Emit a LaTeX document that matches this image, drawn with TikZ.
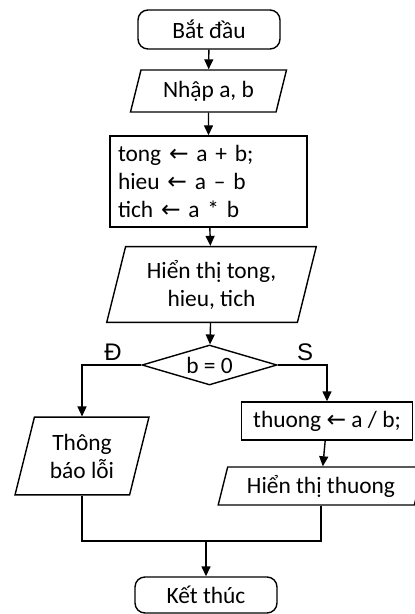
\documentclass[tikz,border=0pt]{standalone}
\usepackage{fontspec}
\setmainfont{Carlito}
\newfontfamily\branchfont{Liberation Sans}
\newfontfamily\arrowglyphs{DejaVu Sans}
\newcommand{\asg}{{\arrowglyphs\char"2190}}
\usetikzlibrary{shapes.geometric,arrows.meta}

\begin{document}
\begin{tikzpicture}[x=0.5pt, y=-0.5pt,
        every node/.style={font=\fontsize{11.7}{14}\selectfont},
        box/.style={
        rectangle, draw=black, line width=0.7pt,
        inner sep=4pt},
        term/.style={box, rounded corners=5pt},
        io/.style={
        trapezium, trapezium left angle=76, trapezium right angle=104,
        draw=black, line width=0.7pt, inner xsep=0pt, inner ysep=2pt, align=center},
        test/.style={
        diamond, draw=black, line width=0.7pt,
        aspect=3.4, inner sep=1pt},
        flow/.style={draw, line width=0.7pt, -{Triangle[length=5pt,width=4.5pt]}},
        branch/.style={font=\branchfont\fontsize{12}{14}\selectfont},
        ]

        \useasboundingbox (0,0) rectangle (414,614);

        \node (start) [term, minimum width=71pt, minimum height=19.5pt] at (209,29.5) {Bắt đầu};
        \node (input) [io, minimum width=76pt, minimum height=21pt] at (208.5,91) {Nhập a, b};
        \node (calc) [box, text width=90.5pt, align=left, minimum height=45.5pt] at (208.5,181.5)
                {tong \asg{} a + b;\\ hieu \asg{} a – b\\ tich \asg{} a * b};
        \node (show) [io, minimum width=105.5pt, minimum height=28.5pt] at (211.5,284.5)
                {Hiển thị tong,\\ hieu, tich};
        \node (cond) [test, minimum width=67.5pt, minimum height=20pt] at (209.5,365) {b = 0};
        \node (err) [io, minimum width=67pt, minimum height=29pt] at (82,456) {Thông\\ báo lỗi};
        \node (quot) [box, minimum width=85.5pt, minimum height=19pt] at (327,421) {thuong \asg{} a / b;};
        \node (showq) [io, minimum width=88pt, minimum height=19pt] at (321,486) {Hiển thị thuong};
        \node (stop) [term, minimum width=71pt, minimum height=18pt] at (206,595) {Kết thúc};

        \node (yes) [branch] at (113,352) {Đ};
        \node (no) [branch] at (305,352) {S};

        \coordinate (join) at (206,541);

        \draw [flow] (start) -- (input);
        \draw [flow] (input) -- (calc);
        \draw [flow] (calc) -- (show);
        \draw [flow] (show) -- (cond);
        \draw [flow] (cond.west) -| (err.north);
        \draw [flow] (cond.east) -| (quot.north);
        \draw [flow] (quot) -- (showq);
        \draw [line width=0.7pt] (err.south) |- (join) -| (showq.south);
        \draw [flow] (join) -- (stop);
    \end{tikzpicture}
\end{document}
